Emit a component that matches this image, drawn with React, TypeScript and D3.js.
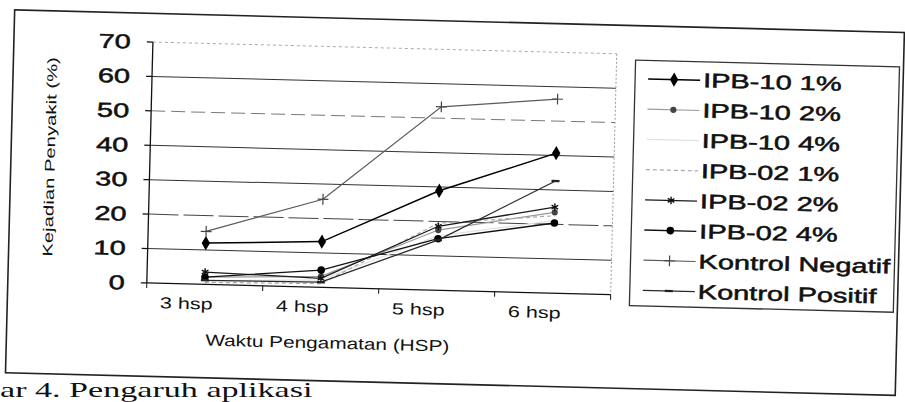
import * as d3 from 'd3'

const categories = ['3 hsp', '4 hsp', '5 hsp', '6 hsp']
const yTicks = [0, 10, 20, 30, 40, 50, 60, 70]
const seriesNames = [
  'IPB-10 1%', 'IPB-10 2%', 'IPB-10 4%', 'IPB-02 1%',
  'IPB-02 2%', 'IPB-02 4%', 'Kontrol Negatif', 'Kontrol Positif',
]
const ipb10_1 = [12, 13.3, 28.9, 40.7]
const ipb10_2 = [2.1, 3.2, 17.5, 23.5]
const ipb10_4 = [1.1, 2.2, 15.8, 21.1]
const ipb02_1 = [0.6, 1.1, 19.5, 22.5]
const ipb02_2 = [3.6, 2.6, 18.6, 25.0]
const ipb02_4 = [2.1, 5.0, 15.0, 20.4]
const kontrolNegatif = [15.4, 25.6, 53.3, 56.4]
const kontrolPositif = [1.2, 1.5, 14.6, 32.6]
const seriesValues = [ipb10_1, ipb10_2, ipb10_4, ipb02_1, ipb02_2, ipb02_4, kontrolNegatif, kontrolPositif]
const caption = 'ar 4. Pengaruh  aplikasi'

const W = 905
const H = 402
const TILT = 1.45 // the scanned page sits slightly rotated
const PLOT = { left: 149, right: 613, top: 49.6, bottom: 290.6 }
const LEGEND = { left: 632, right: 896, top: 55.5, bottom: 301, firstRow: 74, lastRow: 285.5 }
const SANS = '"Liberation Sans", Arial, sans-serif'
const SERIF = '"Liberation Serif", "Times New Roman", serif'

type Marker = 'diamond' | 'dot' | 'star' | 'plus' | 'dash' | 'none'
type Style = { stroke: string; width: number; dash?: string; marker: Marker; markerColor: string; markerSize: number }

const STYLES: Style[] = [
  { stroke: '#000', width: 1.5, marker: 'diamond', markerColor: '#000', markerSize: 60 },
  { stroke: '#9a9a9a', width: 1.2, marker: 'dot', markerColor: '#444', markerSize: 30 },
  { stroke: '#e2e2e2', width: 1.2, marker: 'none', markerColor: '#ddd', markerSize: 0 },
  { stroke: '#a8a8a8', width: 1.2, dash: '4,3', marker: 'none', markerColor: '#aaa', markerSize: 0 },
  { stroke: '#1a1a1a', width: 1.3, marker: 'star', markerColor: '#111', markerSize: 40 },
  { stroke: '#111', width: 1.3, marker: 'dot', markerColor: '#000', markerSize: 45 },
  { stroke: '#5a5a5a', width: 1.2, marker: 'plus', markerColor: '#444', markerSize: 40 },
  { stroke: '#2a2a2a', width: 1.3, marker: 'dash', markerColor: '#222', markerSize: 0 },
]

function gridStyle(v: number) {
  if (v === 70) return { stroke: '#aaa', dash: '3,3' }
  if (v === 50) return { stroke: '#777', dash: '14,6' }
  if (v === 20) return { stroke: '#444', dash: '30,5' }
  return { stroke: '#333', dash: undefined }
}

function MarkerShape({ x, y, s }: { x: number; y: number; s: Style }) {
  const t = `translate(${x},${y})`
  if (s.marker === 'diamond')
    return <path transform={t} d={d3.symbol(d3.symbolDiamond, s.markerSize)() ?? ''} fill={s.markerColor} />
  if (s.marker === 'dot')
    return <path transform={t} d={d3.symbol(d3.symbolCircle, s.markerSize)() ?? ''} fill={s.markerColor} />
  if (s.marker === 'star')
    return <path transform={t} d={d3.symbol(d3.symbolAsterisk, s.markerSize)() ?? ''} fill="none" stroke={s.markerColor} strokeWidth={1.4} />
  if (s.marker === 'plus')
    return <path transform={t} d={d3.symbol(d3.symbolPlus, s.markerSize)() ?? ''} fill="none" stroke={s.markerColor} strokeWidth={1.2} />
  if (s.marker === 'dash')
    return <path transform={t} d="M-4,0H4" stroke={s.markerColor} strokeWidth={2.2} />
  return null
}

function Txt({ x, y, size, sx = 1.45, anchor = 'start', rotate = 0, family = SANS, dy = '0.35em', heavy = false, children }: {
  x: number; y: number; size: number; sx?: number; anchor?: string; rotate?: number; family?: string; dy?: string; heavy?: boolean; children: string
}) {
  return (
    <text
      transform={`translate(${x},${y})${rotate ? ` rotate(${rotate})` : ''} scale(${sx},1)`}
      fontSize={size} textAnchor={anchor} fontFamily={family} fill="#111" dy={dy}
      stroke={heavy ? '#111' : undefined} strokeWidth={heavy ? 0.5 : undefined}
    >{children}</text>
  )
}

export default function App() {
  const x = d3.scaleBand<string>().domain(categories).range([PLOT.left, PLOT.right])
  const cx = (i: number) => (x(categories[i]) ?? 0) + x.bandwidth() / 2
  const y = d3.scaleLinear().domain([0, 70]).range([PLOT.bottom, PLOT.top])
  const line = d3.line<number>().x((_, i) => cx(i)).y(d => y(d))
  const legendY = d3.scalePoint<string>().domain(seriesNames).range([LEGEND.firstRow, LEGEND.lastRow])
  const boundaries = [...categories.map(c => x(c) ?? 0), PLOT.right]

  return (
    <svg width={W} height={H} style={{ position: 'absolute', left: 0, top: 0, background: '#fff' }}>
      <g transform={`rotate(${TILT},450,200)`}>
        {/* outer frame */}
        <rect x={10} y={21} width={890} height={363} fill="none" stroke="#222" strokeWidth={1.6} />

        {/* grid */}
        {yTicks.filter(v => v > 0).map(v => {
          const gs = gridStyle(v)
          return <line key={v} x1={PLOT.left} x2={PLOT.right} y1={y(v)} y2={y(v)}
            stroke={gs.stroke} strokeDasharray={gs.dash} strokeWidth={1} />
        })}
        <line x1={PLOT.right} x2={PLOT.right} y1={PLOT.top} y2={PLOT.bottom}
          stroke="#999" strokeDasharray="2,2" strokeWidth={1} />

        {/* axes */}
        <line x1={PLOT.left} x2={PLOT.left} y1={PLOT.top} y2={PLOT.bottom} stroke="#111" strokeWidth={1.3} />
        {yTicks.map(v => (
          <line key={v} x1={PLOT.left - 6} x2={PLOT.left} y1={y(v)} y2={y(v)} stroke="#111" strokeWidth={1.2} />
        ))}
        <line x1={PLOT.left} x2={PLOT.right} y1={PLOT.bottom} y2={PLOT.bottom} stroke="#111" strokeWidth={1.3} />
        {boundaries.map((bx, i) => (
          <line key={i} x1={bx} x2={bx} y1={PLOT.bottom} y2={PLOT.bottom + 5} stroke="#111" strokeWidth={1} />
        ))}

        {yTicks.map(v => (
          <Txt key={v} x={127} y={y(v)} size={20} anchor="end" heavy>{String(v)}</Txt>
        ))}
        {categories.map((c, i) => (
          <Txt key={c} x={cx(i) - 18} y={310} size={16} sx={1.35} anchor="middle">{c}</Txt>
        ))}
        <Txt x={331} y={346} size={16} sx={1.3} anchor="middle">Waktu Pengamatan (HSP)</Txt>
        <Txt x={49} y={167} size={14} sx={1.45} anchor="middle" rotate={-90}>Kejadian Penyakit (%)</Txt>

        {/* series */}
        {seriesValues.map((vals, si) => {
          const s = STYLES[si]
          return (
            <g key={seriesNames[si]}>
              <path d={line(vals) ?? ''} fill="none" stroke={s.stroke} strokeWidth={s.width} strokeDasharray={s.dash} />
              {vals.map((v, i) => <MarkerShape key={i} x={cx(i)} y={y(v)} s={s} />)}
            </g>
          )
        })}

        {/* legend */}
        <rect x={LEGEND.left} y={LEGEND.top} width={LEGEND.right - LEGEND.left} height={LEGEND.bottom - LEGEND.top}
          fill="#fff" stroke="#333" strokeWidth={1.3} />
        {seriesNames.map((name, si) => {
          const s = STYLES[si]
          const ly = legendY(name) ?? 0
          return (
            <g key={name}>
              <line x1={645} x2={697} y1={ly} y2={ly} stroke={s.stroke} strokeWidth={s.width} strokeDasharray={s.dash} />
              <MarkerShape x={671} y={ly} s={s} />
              <Txt x={700} y={ly} size={20} sx={1.45} heavy>{name}</Txt>
            </g>
          )
        })}
      </g>

      <Txt x={0} y={397} size={22} sx={1.55} family={SERIF} dy="0">{caption}</Txt>
    </svg>
  )
}
